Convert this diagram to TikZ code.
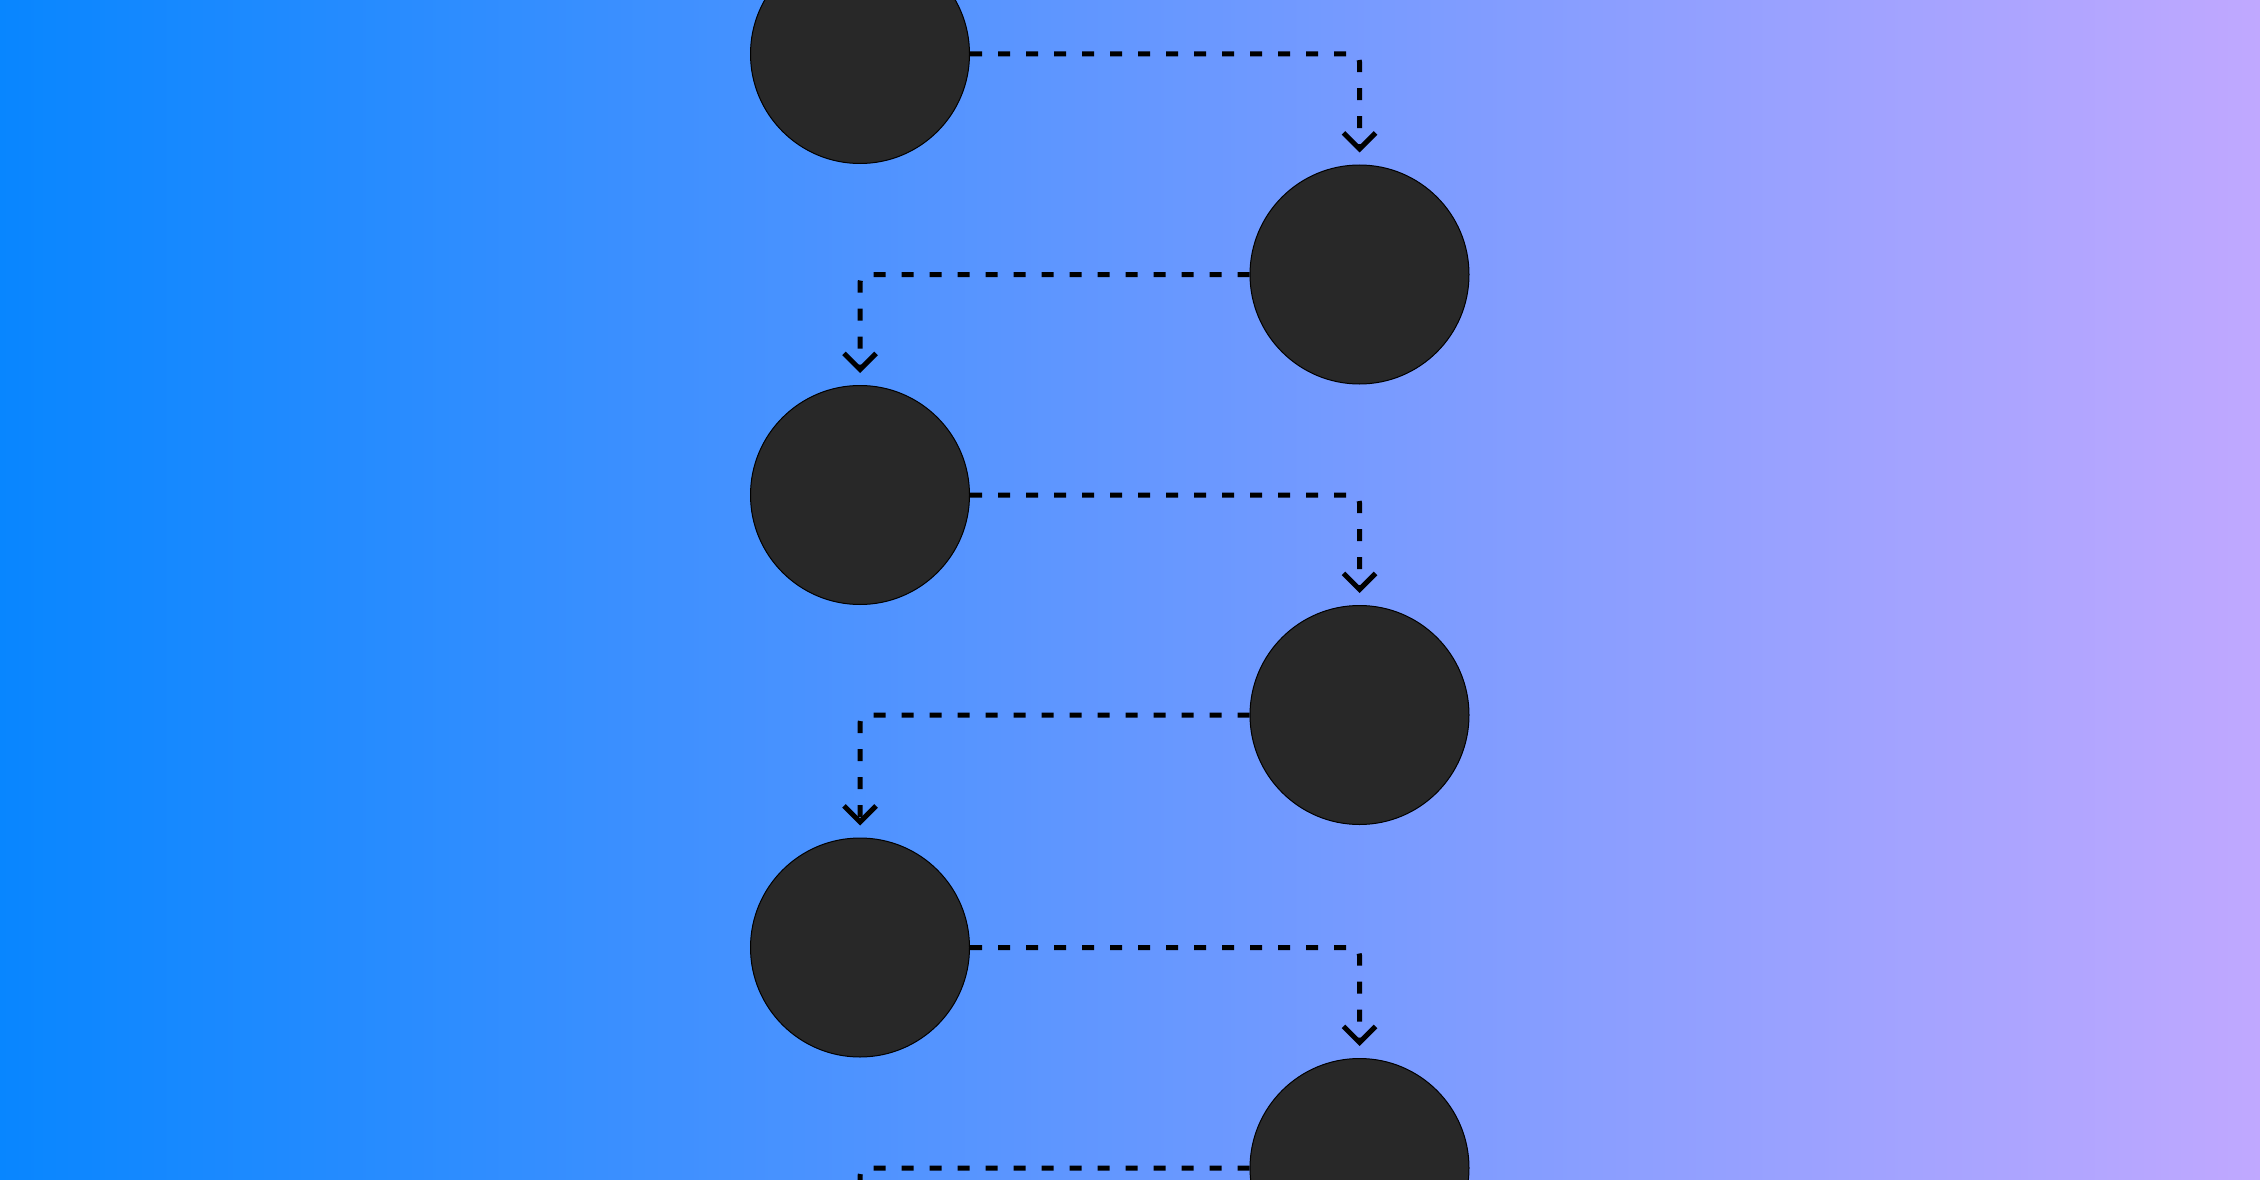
\documentclass[tikz,border=0pt]{standalone}
\usetikzlibrary{arrows.meta}
\definecolor{bgleft}{RGB}{8,134,255}
\definecolor{bgright}{RGB}{192,168,255}
\definecolor{dot}{HTML}{282828}
\tikzset{
  stepnode/.style={circle, minimum size=219pt, inner sep=0pt, fill=dot, draw=black, line width=1pt},
  connfree/.style={line width=5pt, draw=black, dash pattern=on 12pt off 16pt, rounded corners=8pt},
  conn/.style={connfree, -{Straight Barb[length=16pt, width=32pt, line width=5pt]}}
}
\begin{document}
\begin{tikzpicture}[x=1pt,y=-1pt]
\useasboundingbox (0,0) rectangle (2260,1180);
\clip (0,0) rectangle (2260,1180);
\shade[left color=bgleft, right color=bgright] (0,0) rectangle (2260,1180);
\node[stepnode] (c1) at (860,54) {};
\node[stepnode] (c2) at (1359.5,274.5) {};
\node[stepnode] (c3) at (860,495) {};
\node[stepnode] (c4) at (1359.5,715) {};
\node[stepnode] (c5) at (860,947.5) {};
\node[stepnode] (c6) at (1359.5,1168) {};
\coordinate (end) at (860,1260);
\draw[conn] (c1.east) -| ([yshift=12pt]c2.north);
\draw[conn] (c2.west) -| ([yshift=12pt]c3.north);
\draw[conn] (c3.east) -| ([yshift=12pt]c4.north);
\draw[conn] (c4.west) -| ([yshift=12pt]c5.north);
\draw[conn] (c5.east) -| ([yshift=12pt]c6.north);
\draw[connfree] (c6.west) -| (end);
\end{tikzpicture}
\end{document}
